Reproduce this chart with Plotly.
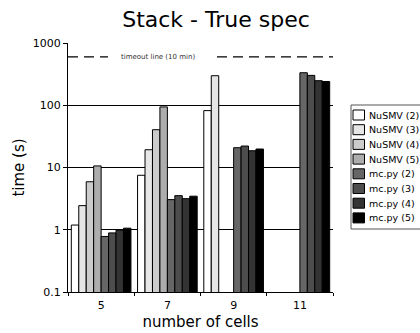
import math
import plotly.graph_objects as go

# ---- data ----
cells = ["5", "7", "9", "11"]
series_names = ["NuSMV (2)", "NuSMV (3)", "NuSMV (4)", "NuSMV (5)",
                "mc.py (2)", "mc.py (3)", "mc.py (4)", "mc.py (5)"]
nusmv_2 = [1.19, 7.5, 82, None]
nusmv_3 = [2.44, 19.3, 298, None]
nusmv_4 = [5.9, 40.5, None, None]
nusmv_5 = [10.6, 94, None, None]
mcpy_2 = [0.78, 3.05, 20.8, 333]
mcpy_3 = [0.89, 3.53, 22.1, 302]
mcpy_4 = [0.99, 3.16, 18.6, 248]
mcpy_5 = [1.06, 3.46, 19.8, 241]
timeout_s = 600
y_ticks = [0.1, 1, 10, 100, 1000]
y_tick_text = ["0.1", "1", "10", "100", "1000"]

series_values = [nusmv_2, nusmv_3, nusmv_4, nusmv_5, mcpy_2, mcpy_3, mcpy_4, mcpy_5]
colors = ["#ffffff", "#e6e6e6", "#cccccc", "#adadad",
          "#666666", "#4d4d4d", "#333333", "#000000"]

FONT = "DejaVu Sans"
W, H = 420, 333
ML, MR, MT, MB = 68, 87, 43, 41
PW, PH = W - ML - MR, H - MT - MB

def px_x(p):
    return (p - ML) / PW

def px_y(p):
    return (H - MB - p) / PH

fig = go.Figure()
for name, vals, col in zip(series_names, series_values, colors):
    fig.add_trace(go.Bar(
        x=cells, y=vals, name=name, showlegend=False,
        marker=dict(color=col, line=dict(color="black", width=1)),
    ))

shapes = []
# timeout line (dashed, broken around its label)
for xa, xb in [(0, px_x(108)), (px_x(217), 1)]:
    shapes.append(dict(type="line", xref="paper", yref="y", x0=xa, x1=xb,
                       y0=timeout_s, y1=timeout_s,
                       line=dict(color="black", width=1.2, dash="10px,6px")))

annotations = [dict(text="timeout line (10 min)", xref="paper", yref="y",
                    x=px_x(158), y=math.log10(timeout_s), showarrow=False,
                    font=dict(family=FONT, size=7, color="#333333"),
                    xanchor="center", yanchor="middle")]

# legend (drawn manually to mimic the reference layout)
shapes.append(dict(type="rect", xref="paper", yref="paper",
                   x0=px_x(351), x1=px_x(440), y0=px_y(229), y1=px_y(105),
                   line=dict(color="#555555", width=1), fillcolor="white"))
for i, (name, col) in enumerate(zip(series_names, colors)):
    cy = 115 + i * 14.7
    shapes.append(dict(type="rect", xref="paper", yref="paper",
                       x0=px_x(353), x1=px_x(364.5), y0=px_y(cy + 5), y1=px_y(cy - 5),
                       line=dict(color="black", width=1), fillcolor=col))
    annotations.append(dict(text=name, xref="paper", yref="paper",
                            x=px_x(367), y=px_y(cy), showarrow=False,
                            xanchor="left", yanchor="middle",
                            font=dict(family=FONT, size=9.5, color="black")))

fig.update_layout(
    width=W, height=H,
    margin=dict(l=ML, r=MR, t=MT, b=MB, pad=0, autoexpand=False),
    paper_bgcolor="white", plot_bgcolor="white",
    barmode="group", bargap=0.1, bargroupgap=0,
    font=dict(family=FONT, color="black"),
    title=dict(text="Stack - True spec", x=216 / W, xanchor="center",
               y=1 - 19 / H, yanchor="middle",
               font=dict(family=FONT, size=22, color="black")),
    shapes=shapes, annotations=annotations,
    showlegend=False,
)
fig.update_xaxes(
    type="category", categoryorder="array", categoryarray=cells,
    automargin=False,
    showline=True, linecolor="black", linewidth=1,
    ticks="outside", tickson="boundaries", ticklen=3, tickcolor="black",
    ticklabelstandoff=3,
    showgrid=False, tickfont=dict(family=FONT, size=11, color="black"),
    title=dict(text="number of cells", standoff=5,
               font=dict(family=FONT, size=15, color="black")),
)
fig.update_yaxes(
    type="log", range=[-1, 3],
    automargin=False,
    tickvals=y_ticks, ticktext=y_tick_text,
    showline=True, linecolor="black", linewidth=1,
    ticks="outside", ticklen=4, tickcolor="black",
    showgrid=True, gridcolor="black", gridwidth=1,
    zeroline=False,
    tickfont=dict(family=FONT, size=11, color="black"),
    title=dict(text="time (s)", standoff=4,
               font=dict(family=FONT, size=15, color="black")),
)

fig.write_html("out.html")
